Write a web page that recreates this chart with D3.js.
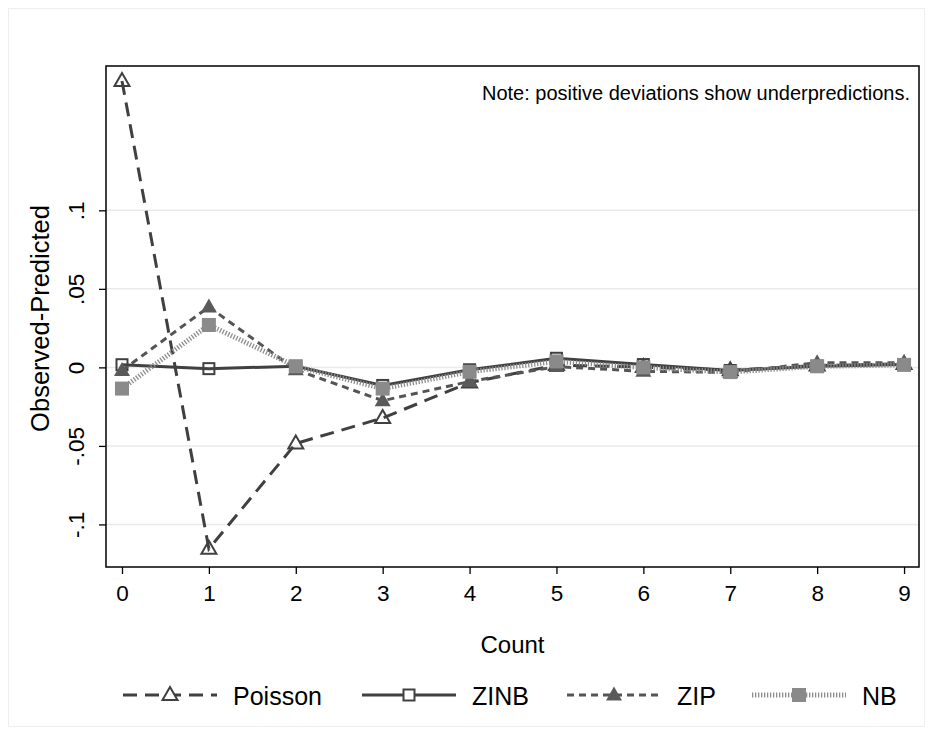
<!DOCTYPE html>
<html><head><meta charset="utf-8">
<script src="https://cdn.jsdelivr.net/npm/d3@7"></script>
<style>body{margin:0;background:#fff}svg text{font-family:"Liberation Sans",Arial,Helvetica,sans-serif}</style>
</head><body><svg id="c" width="933" height="733"></svg>
<script>
const counts = [0,1,2,3,4,5,6,7,8,9];
const poisson = [0.1824,-0.1155,-0.0485,-0.0322,-0.0097,0.0015,0.0002,-0.0018,0.0012,0.0022];
const zinb    = [0.0017,-0.0008,0.0007,-0.0115,-0.0015,0.0058,0.0018,-0.0020,0.0008,0.0018];
const zip     = [-0.0020,0.0385,-0.0015,-0.0212,-0.0090,0.0005,-0.0025,-0.0032,0.0030,0.0030];
const nb      = [-0.0135,0.0270,0.0007,-0.0135,-0.0028,0.0038,0.0000,-0.0030,0.0007,0.0016];
const yTicks = [-0.1,-0.05,0,0.05,0.1];
const yTickLabels = ["-.1","-.05","0",".05",".1"];
const seriesNames = ["Poisson","ZINB","ZIP","NB"];

const svg = d3.select("#c");
const L=106, R=919, T=66, B=567;
const x = d3.scaleLinear().domain([-0.184,9.172]).range([L,R]);
const y = d3.scaleLinear().domain([-0.1271,0.1919]).range([B,T]);

svg.append("rect").attr("x",8.5).attr("y",8.5).attr("width",916).attr("height",718)
  .attr("fill","none").attr("stroke","#eeeeee");

svg.append("g").selectAll("line").data(yTicks).join("line")
  .attr("x1",L).attr("x2",R).attr("y1",d=>y(d)).attr("y2",d=>y(d))
  .attr("stroke","#eaeaea").attr("stroke-width",1.5);

const yAx = svg.append("g").attr("transform",`translate(${L},0)`)
  .call(d3.axisLeft(y).tickValues(yTicks).tickSize(7).tickFormat((d,i)=>yTickLabels[i]));
yAx.select(".domain").remove();
yAx.selectAll("line").attr("stroke","#000").attr("stroke-width",1.3);
yAx.selectAll("text").attr("font-size",22.5).attr("fill","#000")
  .attr("x",0).attr("y",0).attr("dy","0")
  .attr("transform","translate(-22,0) rotate(-90)")
  .attr("text-anchor","middle");

const xAx = svg.append("g").attr("transform",`translate(0,${B})`)
  .call(d3.axisBottom(x).tickValues(counts).tickSize(7).tickFormat(d3.format("d")));
xAx.select(".domain").remove();
xAx.selectAll("line").attr("stroke","#000").attr("stroke-width",1.3);
xAx.selectAll("text").attr("font-size",22.5).attr("fill","#000").attr("y",18).attr("dy","0.71em");

svg.append("rect").attr("x",L).attr("y",T).attr("width",R-L).attr("height",B-T)
  .attr("fill","none").attr("stroke","#000").attr("stroke-width",1.5);

svg.append("text").attr("x",(L+R)/2).attr("y",653).attr("text-anchor","middle")
  .attr("font-size",24).text("Count");
svg.append("text").attr("transform",`translate(49,${(T+B)/2 + 2}) rotate(-90)`).attr("text-anchor","middle")
  .attr("font-size",25.5).text("Observed-Predicted");
svg.append("text").attr("x",910).attr("y",100).attr("text-anchor","end")
  .attr("font-size",20).text("Note: positive deviations show underpredictions.");

const styles = [
  {data:poisson, color:"#404040", w:3, dash:"14,8", marker:"tri", fill:"none", mstroke:"#404040"},
  {data:zinb, color:"#404040", w:3, dash:null, marker:"sq", fill:"none", mstroke:"#404040"},
  {data:zip, color:"#555555", w:3, dash:"7,5", marker:"tri", fill:"#5a5a5a", mstroke:"none"},
  {data:nb, color:"#8c8c8c", w:5, dash:"1.3,1.7", marker:"sq", fill:"#8a8a8a", mstroke:"none"}
];
const line = d3.line().x((d,i)=>x(counts[i])).y(d=>y(d));

function drawMarker(g, s, cx, cy, bg){
  if(s.marker==="tri"){
    if(s.fill==="none"){
      g.append("path").attr("d",`M${cx},${cy-8}L${cx+7.5},${cy+5}L${cx-7.5},${cy+5}Z`)
        .attr("fill",bg).attr("stroke",s.mstroke).attr("stroke-width",2);
    } else {
      g.append("path").attr("d",`M${cx},${cy-8.5}L${cx+8},${cy+5.5}L${cx-8},${cy+5.5}Z`)
        .attr("fill",s.fill);
    }
  } else {
    if(s.fill==="none"){
      g.append("rect").attr("x",cx-5.5).attr("y",cy-5.5).attr("width",11).attr("height",11)
        .attr("fill",bg).attr("stroke",s.mstroke).attr("stroke-width",2);
    } else {
      g.append("rect").attr("x",cx-7).attr("y",cy-7).attr("width",14).attr("height",14).attr("fill",s.fill);
    }
  }
}

styles.forEach(s=>{
  const g = svg.append("g");
  g.append("path").attr("d",line(s.data)).attr("fill","none").attr("stroke",s.color)
    .attr("stroke-width",s.w).attr("stroke-dasharray",s.dash);
  s.data.forEach((v,i)=>drawMarker(g, s, x(counts[i]), y(v), "none"));
});

const legX = [123,362,567,752];
const legY = 695;
styles.forEach((s,i)=>{
  const g = svg.append("g");
  g.append("line").attr("x1",legX[i]).attr("x2",legX[i]+94).attr("y1",legY).attr("y2",legY)
    .attr("stroke",s.color).attr("stroke-width",s.w).attr("stroke-dasharray",s.dash);
  drawMarker(g, s, legX[i]+47, legY, "#fff");
  g.append("text").attr("x",legX[i]+110).attr("y",legY+10).attr("font-size",25).text(seriesNames[i]);
});
</script></body></html>
